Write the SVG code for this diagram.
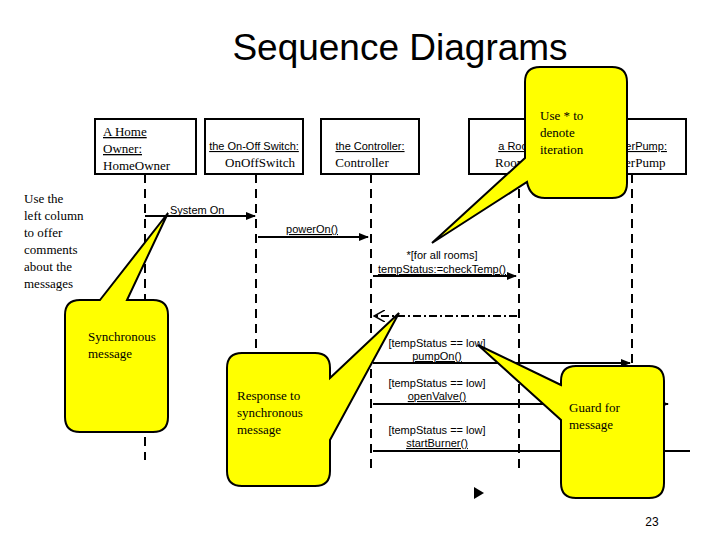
<svg xmlns="http://www.w3.org/2000/svg" width="720" height="540" viewBox="0 0 720 540">
<style>
.box{fill:#fff;stroke:#000;stroke-width:2}
.ll{stroke:#000;stroke-width:2;stroke-dasharray:9,6;fill:none}
.msg{stroke:#000;stroke-width:2;fill:none}
.a{font-family:"Liberation Sans",Arial,sans-serif;font-size:11px;fill:#000}
.t{font-family:"Liberation Serif","Times New Roman",serif;font-size:13px;fill:#000}
.u{text-decoration:underline}
.call{fill:#ffff00;stroke:#000;stroke-width:2}
</style>
<defs>
<marker id="ah" markerWidth="10" markerHeight="8" refX="9" refY="4" orient="auto" markerUnits="userSpaceOnUse"><path d="M0,0 L10,4 L0,8 z" fill="#000"/></marker>
<marker id="oh" markerWidth="12" markerHeight="12" refX="11" refY="6" orient="auto" markerUnits="userSpaceOnUse"><path d="M0,0 L11,6 L0,12" fill="none" stroke="#000" stroke-width="1.5"/></marker>
</defs>
<rect width="720" height="540" fill="#fff"/>
<text x="400" y="60" text-anchor="middle" font-family="Liberation Sans,Arial,sans-serif" font-size="37">Sequence Diagrams</text>
<g id="comment"><text class="t"><tspan x="24" y="203">Use the</tspan><tspan x="24" y="220">left column</tspan><tspan x="24" y="237">to offer</tspan><tspan x="24" y="254">comments</tspan><tspan x="24" y="271">about the</tspan><tspan x="24" y="288">messages</tspan></text></g>
<g id="connectors">
<path class="ll" d="M145,174 V300 M145,437 V460"/>
<path class="ll" d="M256,174 V350"/>
<path class="ll" d="M371,174 V470"/>
<path class="ll" d="M519,174 V472"/>
<path class="ll" d="M632,174 V470"/>
<path class="msg" d="M145,216 H255" marker-end="url(#ah)"/>
<path class="msg" d="M258,237 H368" marker-end="url(#ah)"/>
<path class="msg" d="M373,276 H516" marker-end="url(#ah)"/>
<path class="msg" d="M517,316 H374" stroke-dasharray="8,3,2,3" marker-end="url(#oh)"/>
<path class="msg" d="M373,363 H630" marker-end="url(#ah)"/>
<path class="msg" d="M373,404 H668" marker-end="url(#ah)"/>
<path class="msg" d="M373,451 H690"/>
<path d="M474,487 L484,493 L474,499 z" fill="#000"/>
<text class="a u" x="170" y="214">System On</text>
<text class="a u" x="312" y="233" text-anchor="middle">powerOn()</text>
<text class="a" x="442" y="259" text-anchor="middle">*[for all rooms]</text>
<text class="a u" x="442" y="273" text-anchor="middle">tempStatus:=checkTemp()</text>
<text class="a" x="437" y="347" text-anchor="middle">[tempStatus == low]</text>
<text class="a u" x="437" y="360" text-anchor="middle">pumpOn()</text>
<text class="a" x="437" y="387" text-anchor="middle">[tempStatus == low]</text>
<text class="a u" x="437" y="400" text-anchor="middle">openValve()</text>
<text class="a" x="437" y="434" text-anchor="middle">[tempStatus == low]</text>
<text class="a u" x="437" y="447" text-anchor="middle">startBurner()</text>
<text x="652" y="526" text-anchor="middle" font-family="Liberation Sans,Arial,sans-serif" font-size="12">23</text>
</g>
<g id="owner"><rect class="box" x="95" y="119" width="101" height="55"/><text class="t u" x="103" y="136">A  Home</text><text class="t u" x="103" y="153">Owner:</text><text class="t" x="103" y="170">HomeOwner</text></g>
<g id="switch"><rect class="box" x="205" y="119" width="98" height="55"/><text class="a u" x="254" y="150" text-anchor="middle">the On-Off Switch:</text><text class="t" x="260" y="167" text-anchor="middle">OnOffSwitch</text></g>
<g id="controller"><rect class="box" x="321" y="119" width="98" height="55"/><text class="a u" x="370" y="150" text-anchor="middle">the Controller:</text><text class="t" x="362" y="167" text-anchor="middle">Controller</text></g>
<g id="room"><rect class="box" x="469" y="119" width="100" height="55"/><text class="a u" x="519" y="150" text-anchor="middle">a Room:</text><text class="t" x="511" y="167" text-anchor="middle">Room</text></g>
<g id="pump"><rect class="box" x="578" y="119" width="108" height="55"/><text class="a u" x="632" y="150" text-anchor="middle">a WaterPump:</text><text class="t" x="635" y="167" text-anchor="middle">WaterPump</text></g>
<g id="callout-iter"><path class="call" d="M525,158 L432,243 L527,182 Q530,198 545,198 H612 Q627,198 627,183 V82 Q627,67 612,67 H540 Q525,67 525,82 Z"/><text class="t"><tspan x="540" y="120">Use * to</tspan><tspan x="540" y="137">denote</tspan><tspan x="540" y="154">iteration</tspan></text></g>
<g id="callout-sync"><path class="call" d="M100,300 L168,213 L127,300 H153 Q168,300 168,315 V417 Q168,432 153,432 H80 Q65,432 65,417 V315 Q65,300 80,300 Z"/><text class="t"><tspan x="88" y="341">Synchronous</tspan><tspan x="88" y="358">message</tspan></text></g>
<g id="callout-resp"><path class="call" d="M330,378 L399,313 L330,440 V471 Q330,486 315,486 H242 Q227,486 227,471 V368 Q227,353 242,353 H315 Q330,353 330,368 Z"/><text class="t"><tspan x="237" y="400">Response to</tspan><tspan x="237" y="417">synchronous</tspan><tspan x="237" y="434">message</tspan></text></g>
<g id="callout-guard"><path class="call" d="M561,385 L478,345 L561,420 V483 Q561,498 576,498 H649 Q664,498 664,483 V381 Q664,366 649,366 H576 Q561,366 561,381 Z"/><text class="t"><tspan x="569" y="412">Guard for</tspan><tspan x="569" y="429">message</tspan></text></g>
</svg>
